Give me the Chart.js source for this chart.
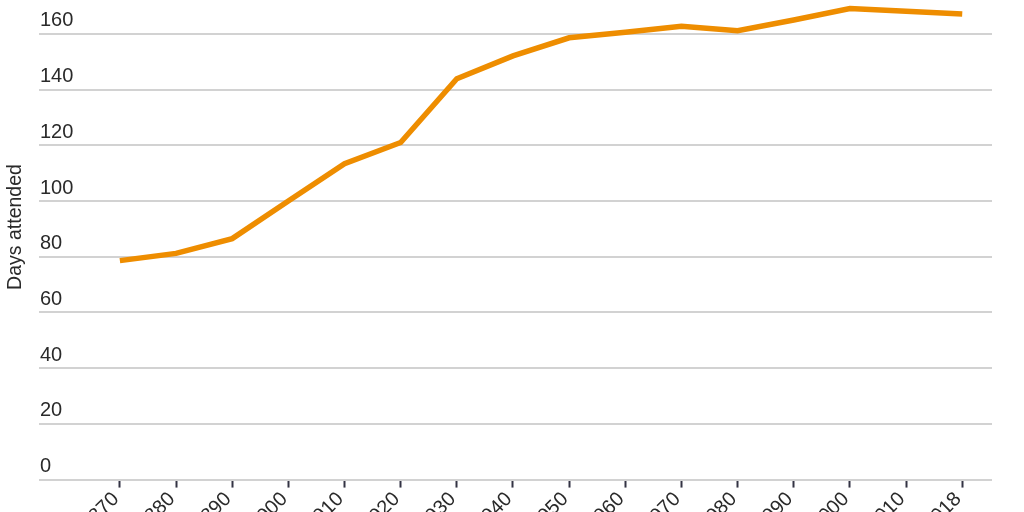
<!DOCTYPE html>
<html><head><meta charset="utf-8">
<style>
html,body{margin:0;padding:0;overflow:hidden;background:#fff;width:1024px;height:512px}
#wrap{position:relative;width:1024px;height:548px;margin-top:-12px}
</style>
<script src="https://cdn.jsdelivr.net/npm/chart.js@4/dist/chart.umd.min.js"></script>
</head><body><div id="wrap"><canvas id="c"></canvas></div>
<script>
const years = ['1870','1880','1890','1900','1910','1920','1930','1940','1950','1960','1970','1980','1990','2000','2010','2018'];
const daysAttended = [78.6, 81.2, 86.5, 100.0, 113.4, 121.0, 143.9, 152.1, 158.6, 160.6, 162.7, 161.1, 165.0, 169.1, 168.1, 167.1];
const yTicks = [0, 20, 40, 60, 80, 100, 120, 140, 160];
const yTitle = 'Days attended';

const FONT = 'Liberation Sans';
const TXT = '#2a2a2a';

const yTitlePlugin = {
  id: 'yTitle',
  afterDraw(chart) {
    const ctx = chart.ctx;
    ctx.save();
    ctx.translate(16, 239);
    ctx.rotate(-Math.PI / 2);
    ctx.font = '19.5px "' + FONT + '"';
    ctx.fillStyle = TXT;
    ctx.textAlign = 'center';
    ctx.textBaseline = 'middle';
    ctx.fillText(yTitle, 0, 0);
    ctx.restore();
  }
};

new Chart(document.getElementById('c'), {
  type: 'line',
  data: {
    datasets: [{
      data: daysAttended.map((v, i) => ({x: i, y: v})),
      borderColor: '#ee8d00',
      borderWidth: 5.5,
      pointRadius: 0,
      tension: 0,
      borderCapStyle: 'butt',
      clip: false
    }]
  },
  plugins: [yTitlePlugin],
  options: {
    responsive: true,
    maintainAspectRatio: false,
    animation: false,
    layout: {padding: {top: 0, right: 32, left: 37, bottom: 0}},
    plugins: {legend: {display: false}, tooltip: {enabled: false}},
    scales: {
      x: {
        type: 'linear',
        min: -1.44,
        max: 15.53,
        afterBuildTicks: s => { s.ticks = years.map((_, i) => ({value: i})); },
        ticks: {
          autoSkip: false,
          minRotation: 45,
          maxRotation: 45,
          padding: 0,
          labelOffset: -4,
          color: TXT,
          font: {family: FONT, size: 20},
          callback: (v, i) => years[i]
        },
        grid: {drawOnChartArea: false, tickLength: 8, tickWidth: 2, tickColor: '#333344'},
        border: {display: false}
      },
      y: {
        min: 0,
        max: 171.8,
        afterBuildTicks: s => { s.ticks = yTicks.map(v => ({value: v})); },
        ticks: {
          mirror: true,
          padding: 1,
          labelOffset: -13,
          color: TXT,
          font: {family: FONT, size: 20}
        },
        grid: {color: '#d2d2d2', lineWidth: 2, drawTicks: false},
        border: {display: false},
        title: {display: false}
      }
    }
  }
});
</script>
</body></html>
